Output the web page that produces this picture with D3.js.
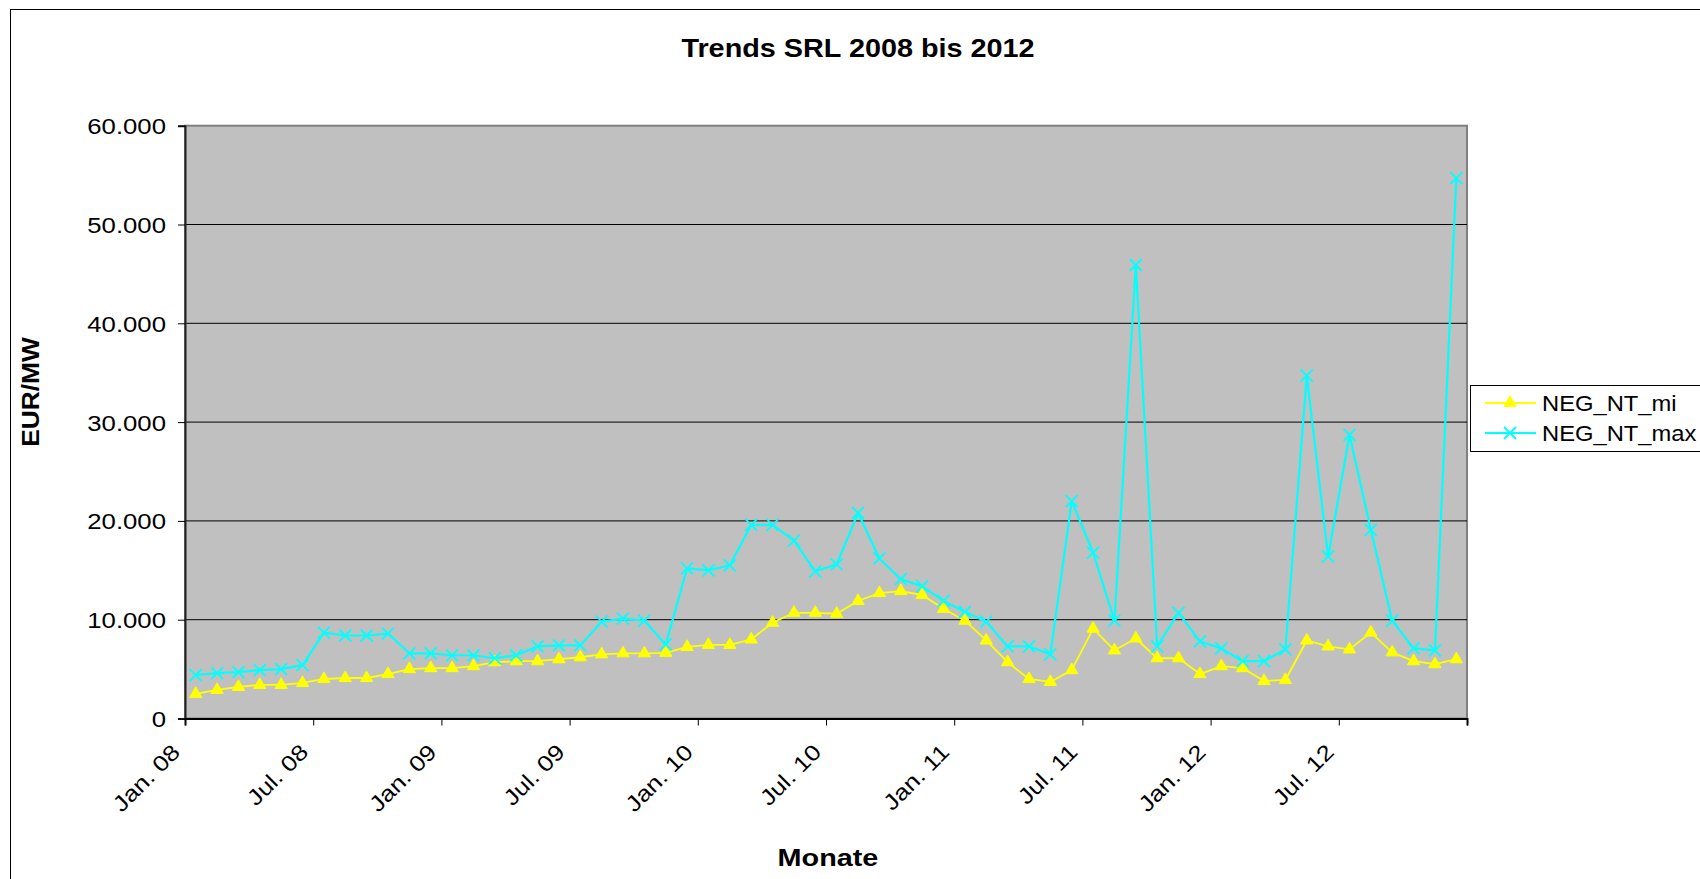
<!DOCTYPE html>
<html>
<head>
<meta charset="utf-8">
<script src="https://cdn.jsdelivr.net/npm/d3@7/dist/d3.min.js"></script>
<style>
  html, body { margin: 0; padding: 0; background: #ffffff; overflow: hidden; }
  svg { display: block; font-family: "Liberation Sans", Arial, sans-serif; }
</style>
</head>
<body>
<svg id="chart" width="1700" height="879"></svg>
<script>
// ---------------- data ----------------
const monthNames = ["Jan.", "Feb.", "Mär.", "Apr.", "Mai", "Jun.", "Jul.", "Aug.", "Sep.", "Okt.", "Nov.", "Dez."];
const years = ["08", "09", "10", "11", "12"];
const categories = years.flatMap(yy => monthNames.map(m => m + " " + yy));

const tickLabels = ["Jan. 08", "Jul. 08", "Jan. 09", "Jul. 09", "Jan. 10", "Jul. 10", "Jan. 11", "Jul. 11", "Jan. 12", "Jul. 12", ""];
const yTicks = [0, 10000, 20000, 30000, 40000, 50000, 60000];

const seriesNames = ["NEG_NT_mi", "NEG_NT_max"];

const negNtMi = [
  2500, 2900, 3200, 3400, 3400, 3600, 4000, 4100, 4100, 4500,
  5000, 5100, 5100, 5300, 5700, 5800, 5800, 6000, 6200, 6500,
  6600, 6600, 6650, 7250, 7450, 7450, 8000, 9700, 10700, 10700,
  10600, 11900, 12700, 12900, 12500, 11100, 9900, 7900, 5700, 4000,
  3700, 4900, 9100, 6900, 8100, 6100, 6100, 4500, 5300, 5100,
  3800, 3900, 7900, 7300, 7000, 8700, 6700, 5800, 5500, 6000
];

const negNtMax = [
  4400, 4600, 4700, 4900, 5000, 5400, 8700, 8400, 8400, 8600,
  6600, 6600, 6400, 6400, 6100, 6400, 7300, 7400, 7400, 9800,
  10100, 9900, 7500, 15200, 15000, 15500, 19600, 19600, 18000, 14900,
  15600, 20800, 16200, 14100, 13400, 11900, 10800, 9800, 7300, 7300,
  6500, 22000, 16800, 9900, 45900, 7300, 10700, 7800, 7100, 5800,
  5800, 7000, 34700, 16400, 28700, 19100, 9900, 7100, 6900, 54700
];

// ---------------- layout ----------------
const plot = { left: 185, right: 1467, top: 125.7, bottom: 718.5 };
const svg = d3.select("#chart");
const STRETCH = 1.17;

const deLocale = d3.formatLocale({ decimal: ",", thousands: ".", grouping: [3], currency: ["", " €"] });
const fmt = deLocale.format(",");

const x = d3.scaleBand().domain(categories).range([plot.left, plot.right]).padding(0);
const xIdx = d3.scaleLinear().domain([0, categories.length]).range([plot.left, plot.right]);
const y = d3.scaleLinear().domain([0, 60000]).range([plot.bottom, plot.top]);
const cx = d => x(d) + x.bandwidth() / 2;

// outer chart border
svg.append("rect")
  .attr("x", 10.5).attr("y", 9.5).attr("width", 1720).attr("height", 900)
  .attr("fill", "#ffffff").attr("stroke", "#000000").attr("stroke-width", 1);

// plot area
svg.append("rect")
  .attr("x", plot.left).attr("y", plot.top)
  .attr("width", plot.right - plot.left).attr("height", plot.bottom - plot.top)
  .attr("fill", "#c0c0c0").attr("stroke", "#808080").attr("stroke-width", 2);

// gridlines
svg.append("g").selectAll("line")
  .data(yTicks.filter(v => v > 0 && v < 60000))
  .join("line")
  .attr("x1", plot.left).attr("x2", plot.right)
  .attr("y1", d => y(d)).attr("y2", d => y(d))
  .attr("stroke", "#000000").attr("stroke-width", 1);

// y axis
const yAxis = svg.append("g")
  .attr("transform", `translate(${plot.left},0)`)
  .call(d3.axisLeft(y).tickValues(yTicks).tickSize(7).tickPadding(0).tickFormat(fmt));
yAxis.select(".domain").attr("stroke", "#202020").attr("stroke-width", 2);
yAxis.selectAll(".tick line").attr("stroke", "#000000").attr("stroke-width", 1);
yAxis.selectAll(".tick text")
  .attr("x", null).attr("dy", null)
  .attr("font-size", 22).attr("fill", "#000000")
  .attr("font-family", "Liberation Sans, Arial, sans-serif")
  .attr("text-anchor", "end")
  .attr("transform", `translate(-19,8) scale(${STRETCH},1)`);

// x axis (ticks at category boundaries every 6 months)
const xAxis = svg.append("g")
  .attr("transform", `translate(0,${plot.bottom})`)
  .call(d3.axisBottom(xIdx)
    .tickValues(d3.range(0, categories.length + 1, 6))
    .tickSize(7)
    .tickFormat((d, i) => tickLabels[i]));
xAxis.select(".domain").attr("stroke", "#000000").attr("stroke-width", 2);
xAxis.selectAll(".tick line").attr("stroke", "#000000").attr("stroke-width", 1);
xAxis.selectAll(".tick text")
  .attr("x", null).attr("y", null).attr("dy", null)
  .attr("font-size", 22).attr("fill", "#000000")
  .attr("font-family", "Liberation Sans, Arial, sans-serif")
  .attr("text-anchor", "end")
  .attr("transform", `translate(-4,35) rotate(-45) scale(${STRETCH},1)`);

// lines and markers
const lineGen = vals => d3.line()
  .x((d, i) => cx(categories[i]))
  .y(d => y(d))(vals);

// NEG_NT_mi (yellow, triangles)
svg.append("path")
  .attr("d", lineGen(negNtMi))
  .attr("fill", "none").attr("stroke", "#ffff00").attr("stroke-width", 1.8)
  .attr("stroke-linejoin", "round");
const tri = d3.symbol(d3.symbolTriangle).size(66)();
svg.append("g").selectAll("path")
  .data(negNtMi)
  .join("path")
  .attr("d", tri)
  .attr("transform", (d, i) => `translate(${cx(categories[i])},${y(d)})`)
  .attr("fill", "#ffff00").attr("stroke", "#ffff00").attr("stroke-width", 1);

// NEG_NT_max (cyan, crosses)
svg.append("path")
  .attr("d", lineGen(negNtMax))
  .attr("fill", "none").attr("stroke", "#00ffff").attr("stroke-width", 2.2)
  .attr("stroke-linejoin", "round");
const crossPath = "M-6,-6L6,6M-6,6L6,-6";
svg.append("g").selectAll("path")
  .data(negNtMax)
  .join("path")
  .attr("d", crossPath)
  .attr("transform", (d, i) => `translate(${cx(categories[i])},${y(d)})`)
  .attr("fill", "none").attr("stroke", "#00ffff").attr("stroke-width", 1.8);

// title
svg.append("text")
  .attr("transform", `translate(${(plot.left + plot.right) / 2 + 32},57) scale(1.13,1)`)
  .attr("text-anchor", "middle")
  .attr("font-size", 25.5).attr("font-weight", "bold").attr("fill", "#000000")
  .text("Trends SRL 2008 bis 2012");

// x axis title
svg.append("text")
  .attr("transform", `translate(${(plot.left + plot.right) / 2 + 2},866) scale(1.2,1)`)
  .attr("text-anchor", "middle")
  .attr("font-size", 24).attr("font-weight", "bold").attr("fill", "#000000")
  .text("Monate");

// y axis title
svg.append("text")
  .attr("transform", `translate(39,392) rotate(-90) scale(1.12,1)`)
  .attr("text-anchor", "middle")
  .attr("font-size", 23.5).attr("font-weight", "bold").attr("fill", "#000000")
  .text("EUR/MW");

// legend
const legend = svg.append("g").attr("transform", "translate(1470,385)");
legend.append("rect")
  .attr("x", 0.5).attr("y", 0.5).attr("width", 260).attr("height", 66)
  .attr("fill", "#ffffff").attr("stroke", "#000000").attr("stroke-width", 1);
const legendColors = ["#ffff00", "#00ffff"];
const legendRows = legend.selectAll("g.row")
  .data(seriesNames)
  .join("g")
  .attr("class", "row")
  .attr("transform", (d, i) => `translate(0,${18 + i * 30})`);
legendRows.append("line")
  .attr("x1", 15).attr("x2", 66).attr("y1", 0).attr("y2", 0)
  .attr("stroke", (d, i) => legendColors[i]).attr("stroke-width", (d, i) => i === 0 ? 1.8 : 2.2);
legendRows.append("path")
  .attr("d", (d, i) => i === 0 ? tri : crossPath)
  .attr("transform", "translate(40,0)")
  .attr("fill", (d, i) => i === 0 ? "#ffff00" : "none")
  .attr("stroke", (d, i) => legendColors[i])
  .attr("stroke-width", (d, i) => i === 0 ? 1 : 1.8);
legendRows.append("text")
  .attr("transform", `translate(72,8) scale(1.08,1)`)
  .attr("font-size", 22).attr("fill", "#000000")
  .text(d => d);
</script>
</body>
</html>
